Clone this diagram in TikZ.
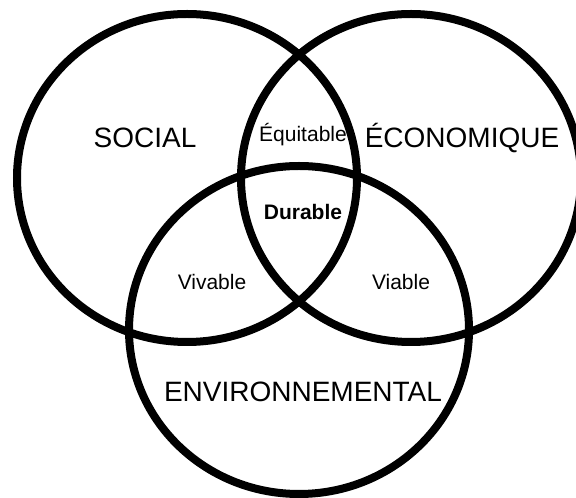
\documentclass[tikz,border=0pt]{standalone}
\usepackage{fontspec}
\setmainfont{Liberation Sans}
\begin{document}
\begin{tikzpicture}
[x = 1pt, y = 1pt, ring/.style ={line width=8pt}, big/.style ={anchor=base, inner sep=0pt, font=\fontsize{28}{30}\selectfont},
small/.style ={anchor=base, inner sep=0pt, font=\fontsize{21}{24}\selectfont}]
\useasboundingbox (0,0) rectangle (576,498);
\coordinate (soc) at (187,320);
\coordinate (eco) at (411,320);
\coordinate (env) at (299,168);
\draw[ring] (soc) ellipse [x radius=170, y radius=164];
\draw[ring] (eco) ellipse [x radius=170, y radius=164];
\draw[ring] (env) ellipse [x radius=170, y radius=164];
\node[big] (social) at (145,350) {SOCIAL};
\node[big] (econ) at (462,350) {ÉCONOMIQUE};
\node[big] (envir) at (303,96) {ENVIRONNEMENTAL};
\node[small] (equit) at (303,356) {Équitable};
\node[small] (durab) at (303,278) {\bfseries Durable};
\node[small] (vivab) at (212,208) {Vivable};
\node[small] (viab) at (401,208) {Viable};
\end{tikzpicture}
\end{document}
